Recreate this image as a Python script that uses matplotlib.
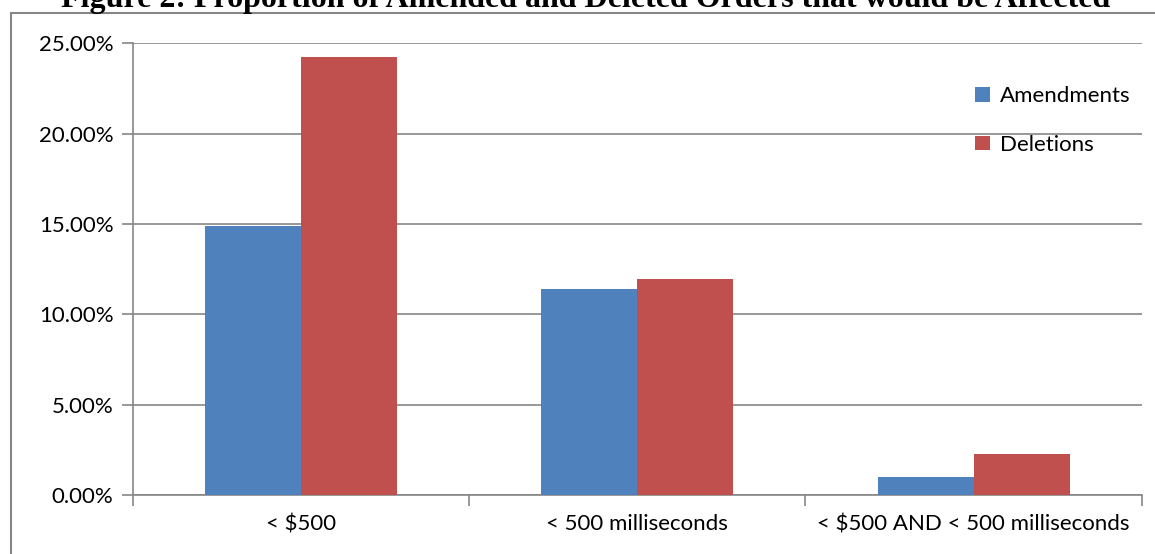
import matplotlib.pyplot as plt
import matplotlib.patches as mpatches
import numpy as np

categories = ['< $500', '< 500 milliseconds', '< $500 AND < 500 milliseconds']
amendments = [14.89, 11.39, 0.98]  # percent
deletions = [24.23, 11.94, 2.25]   # percent
yticks = [0, 5, 10, 15, 20, 25]

blue = '#4F81BD'
red = '#C0504D'
grey = '#868686'

fig = plt.figure(figsize=(11.55, 5.54), dpi=100)
ax = fig.add_axes([0.1152, 0.1065, 0.8733, 0.8153])

x = np.arange(len(categories))
w = 0.2855
ax.bar(x - w / 2, amendments, w, color=blue, label='Amendments', zorder=3)
ax.bar(x + w / 2, deletions, w, color=red, label='Deletions', zorder=3)

ax.set_xlim(-0.5, 2.5)
ax.set_ylim(0, 25)
ax.set_yticks(yticks)
ax.set_yticklabels(['%.2f%%' % v for v in yticks])
ax.yaxis.grid(True, color=grey, linewidth=1.2, zorder=0)

# category boundaries get the tick marks, names sit between them
ax.set_xticks([-0.5, 0.5, 1.5, 2.5])
ax.set_xticklabels([])
ax.set_xticks(x, minor=True)
ax.set_xticklabels(categories, minor=True)
ax.tick_params(axis='x', which='minor', length=0, pad=14)
ax.tick_params(axis='x', which='major', length=8, width=1.2, color=grey, direction='out')
ax.tick_params(axis='y', length=8, width=1.2, color=grey, direction='out', pad=6)

for lbl in ax.get_xticklabels(minor=True) + ax.get_yticklabels():
    lbl.set_fontfamily('Lato')
    lbl.set_fontsize(16)

for s in ['top', 'right']:
    ax.spines[s].set_visible(False)
for s in ['left', 'bottom']:
    ax.spines[s].set_color(grey)
    ax.spines[s].set_linewidth(1.2)

leg = ax.legend(loc='upper left', bbox_to_anchor=(0.815, 0.95), frameon=False,
                handlelength=0.65, handleheight=0.65, handletextpad=0.45,
                labelspacing=1.3, prop={'family': 'Lato', 'size': 16})

# outer chart frame
fig.patches.append(mpatches.Rectangle((11 / 1155, -0.01), 1.0, 1 - 13 / 554 + 0.01,
                                      transform=fig.transFigure, fill=False,
                                      edgecolor=grey, linewidth=1.5))

fig.text(0.507, 1 - 7 / 554, 'Figure 2: Proportion of Amended and Deleted Orders that would be Affected',
         ha='center', va='baseline', fontsize=23, fontweight='bold',
         family='Liberation Serif')

fig.savefig('out.png', dpi=100)
